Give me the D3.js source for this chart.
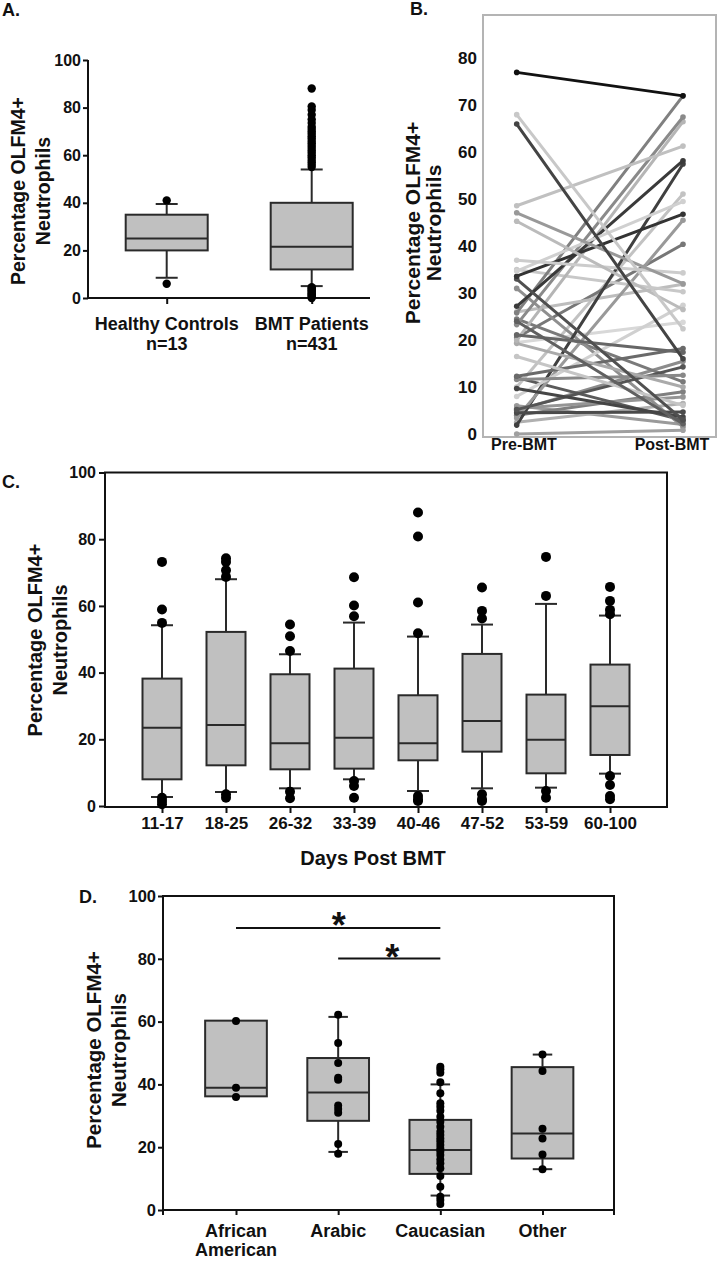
<!DOCTYPE html>
<html><head><meta charset="utf-8">
<script src="https://cdn.jsdelivr.net/npm/d3@7"></script>
<style>
body{margin:0;background:#fff;}
svg{display:block;font-family:"Liberation Sans",Arial,Helvetica,sans-serif;font-weight:bold;}
</style></head><body>
<svg id="fig" width="718" height="1262"></svg>
<script>
// ---------- Panel A ----------
const aCategories = ["Healthy Controls", "BMT Patients"];
const aCounts = ["n=13", "n=431"];
const aQ1 = [20, 12];
const aMedian = [25, 21.5];
const aQ3 = [35, 40];
const aWhiskerLow = [8.5, 5];
const aWhiskerHigh = [39.5, 54];
const aOutliers = [
  [41, 6],
  [88, 80.5, 79, 77, 75, 73.5, 72, 71, 70, 69, 68, 67, 66, 65, 64, 63, 62, 61, 60, 59, 58, 57, 56, 55,
   4.5, 4, 3.5, 3, 2.5, 2, 1.5, 1, 0.5, 0]
];
const aYTicks = [0, 20, 40, 60, 80, 100];

// ---------- Panel B ----------
const bTimepoints = ["Pre-BMT", "Post-BMT"];
const bPre  = [77, 68, 66, 48.6, 47.1, 45.3, 37, 34.7, 33.6, 33, 27.2, 25.8, 24, 23.3, 21.1, 20, 19.3, 16.5, 12.3, 11.6,
               9.7, 8, 5.2, 4.5, 3.4, 1.9, 0, 35, 31, 26, 24.5, 20.5, 19.5, 12, 10, 5.5, 5, 4, 2.5, 6];
const bPost = [72, 22.4, 16, 61.3, 32, 26.5, 34.3, 49.5, 46.8, 3, 58.2, 72, 2.2, 67.5, 17.4, 66.5, 10, 6.1, 18.2, 12.5,
               3.6, 27.4, 14.3, 4.7, 45.5, 57.5, 0.8, 30.3, 1.5, 31.9, 11.1, 40.4, 23.8, 2.9, 51.1, 7.9, 15.5, 9, 6.5, 2];
const bShade = ["#111111", "#c8c8c8", "#444444", "#c0c0c0", "#999999", "#bbbbbb", "#cccccc", "#d0d0d0", "#333333", "#505050",
                "#3a3a3a", "#808080", "#606060", "#8a8a8a", "#666666", "#b5b5b5", "#aaaaaa", "#c5c5c5", "#6a6a6a", "#888888",
                "#454545", "#d0d0d0", "#555555", "#4a4a4a", "#999999", "#404040", "#a0a0a0", "#c8c8c8", "#8f8f8f", "#bdbdbd",
                "#7a7a7a", "#777777", "#d8d8d8", "#5a5a5a", "#c2c2c2", "#959595", "#8c8c8c", "#7f7f7f", "#b0b0b0", "#9a9a9a"];
const bYTicks = [0, 10, 20, 30, 40, 50, 60, 70, 80];

// ---------- Panel C ----------
const cCategories = ["11-17", "18-25", "26-32", "33-39", "40-46", "47-52", "53-59", "60-100"];
const cQ1 = [8.0, 12.2, 11.0, 11.2, 13.7, 16.3, 9.8, 15.3];
const cMedian = [23.5, 24.3, 18.8, 20.5, 18.8, 25.5, 19.9, 29.9];
const cQ3 = [38.2, 52.2, 39.5, 41.2, 33.2, 45.6, 33.4, 42.4];
const cWhiskerLow = [2.7, 4.2, 5.3, 8.0, 4.5, 5.3, 5.5, 9.7];
const cWhiskerHigh = [54.2, 68, 45.5, 55, 50.8, 54.4, 60.6, 57.1];
const cOutliers = [
  [73.2, 58.9, 54.9, 2.5, 1.5, 0.5],
  [74.3, 73.2, 70.7, 68.7, 3.5, 2.5],
  [54.4, 50.9, 46.5, 4.3, 2.3],
  [68.6, 60.1, 56.9, 7.5, 6, 2.5],
  [88, 80.8, 61, 51.8, 3, 2, 1.5],
  [65.5, 58.5, 56.2, 3.5, 2, 1.5],
  [74.7, 63, 4.5, 2.5],
  [65.7, 61.5, 58.8, 57.5, 9, 6.3, 3, 2]
];
const cYTicks = [0, 20, 40, 60, 80, 100];

// ---------- Panel D ----------
const dCategories = ["African American", "Arabic", "Caucasian", "Other"];
const dQ1 = [36.2, 28.4, 11.5, 16.4];
const dMedian = [38.9, 37.4, 19.1, 24.4];
const dQ3 = [60.3, 48.4, 28.7, 45.5];
const dWhiskerLow = [null, 18.5, 4.6, 13];
const dWhiskerHigh = [null, 61.5, 40, 49.5];
const dPoints = [
  [60.2, 38.9, 36],
  [62.2, 53.2, 46.8, 42.1, 41.5, 33.3, 32.2, 31, 21, 17.9],
  [45.6, 44.8, 43.7, 40.7, 37.2, 34, 32.9, 31.6, 29.7, 28.1, 26.5, 24.9, 23.9, 22.8, 21.8, 20.7, 19.6, 18.6,
   17.5, 16.1, 14.9, 13.3, 10.8, 7.4, 4.2, 3.2, 1.9],
  [49.5, 44.3, 25.9, 22.8, 17.7, 13]
];
const dSigFrom = ["African American", "Arabic"];
const dSigTo = ["Caucasian", "Caucasian"];
const dSigLevel = [89.8, 80.1];
const dYTicks = [0, 20, 40, 60, 80, 100];

// ---------- helpers ----------
const svg = d3.select("#fig");
const INK = "#111";
const BOXFILL = "#c0c0c0";
const BOXSTROKE = "#2a2a2a";

function drawBoxes(g, cats, x, y, q1, med, q3, wl, wh, pts, boxW, capW, r) {
  cats.forEach((c, i) => {
    const cx = x(c);
    const gg = g.append("g");
    if (wh[i] != null) {
      gg.append("line").attr("x1", cx).attr("x2", cx).attr("y1", y(q3[i])).attr("y2", y(wh[i]))
        .attr("stroke", BOXSTROKE).attr("stroke-width", 2);
      gg.append("line").attr("x1", cx - capW / 2).attr("x2", cx + capW / 2).attr("y1", y(wh[i])).attr("y2", y(wh[i]))
        .attr("stroke", BOXSTROKE).attr("stroke-width", 2);
    }
    if (wl[i] != null) {
      gg.append("line").attr("x1", cx).attr("x2", cx).attr("y1", y(q1[i])).attr("y2", y(wl[i]))
        .attr("stroke", BOXSTROKE).attr("stroke-width", 2);
      gg.append("line").attr("x1", cx - capW / 2).attr("x2", cx + capW / 2).attr("y1", y(wl[i])).attr("y2", y(wl[i]))
        .attr("stroke", BOXSTROKE).attr("stroke-width", 2);
    }
    gg.append("rect").attr("x", cx - boxW / 2).attr("y", y(q3[i])).attr("width", boxW)
      .attr("height", y(q1[i]) - y(q3[i])).attr("fill", BOXFILL).attr("stroke", BOXSTROKE).attr("stroke-width", 2);
    gg.append("line").attr("x1", cx - boxW / 2).attr("x2", cx + boxW / 2).attr("y1", y(med[i])).attr("y2", y(med[i]))
      .attr("stroke", BOXSTROKE).attr("stroke-width", 2);
    gg.selectAll("circle").data(pts[i]).join("circle")
      .attr("cx", cx).attr("cy", d => y(d)).attr("r", r).attr("fill", "#000");
  });
}

function yLabel(g, cx1, cx2, cy, size) {
  g.append("text").attr("transform", `translate(${cx1},${cy}) rotate(-90)`)
    .attr("text-anchor", "middle").attr("dominant-baseline", "central")
    .attr("font-size", size).attr("fill", INK).text("Percentage OLFM4+");
  g.append("text").attr("transform", `translate(${cx2},${cy}) rotate(-90)`)
    .attr("text-anchor", "middle").attr("dominant-baseline", "central")
    .attr("font-size", size).attr("fill", INK).text("Neutrophils");
}

function styleAxis(ax, size) {
  ax.select(".domain").remove();
  ax.selectAll(".tick line").attr("stroke", INK).attr("stroke-width", 2);
  ax.selectAll(".tick text").attr("fill", INK).attr("font-size", size)
    .attr("font-family", "'Liberation Sans',Arial,sans-serif").attr("font-weight", "bold");
}

// ---------- Panel A ----------
{
  const g = svg.append("g");
  const x = d3.scalePoint().domain(aCategories).range([166.7, 311.7]);
  const y = d3.scaleLinear().domain([0, 100]).range([298, 60]);
  const ax = g.append("g").attr("transform", "translate(88,0)")
    .call(d3.axisLeft(y).tickValues(aYTicks).tickSize(5).tickPadding(2));
  styleAxis(ax, 16);
  const bx = g.append("g").attr("transform", "translate(0,298)")
    .call(d3.axisBottom(x).tickSize(6).tickFormat(""));
  styleAxis(bx, 16);
  g.append("line").attr("x1", 88).attr("x2", 88).attr("y1", 60).attr("y2", 299).attr("stroke", INK).attr("stroke-width", 2);
  g.append("line").attr("x1", 87).attr("x2", 370).attr("y1", 298).attr("y2", 298).attr("stroke", INK).attr("stroke-width", 2);
  drawBoxes(g, aCategories, x, y, aQ1, aMedian, aQ3, aWhiskerLow, aWhiskerHigh, aOutliers, 82, 22, 4.2);
  aCategories.forEach((c, i) => {
    g.append("text").attr("x", x(c)).attr("y", 330).attr("text-anchor", "middle").attr("font-size", 18).attr("fill", INK).text(c);
    g.append("text").attr("x", x(c)).attr("y", 350).attr("text-anchor", "middle").attr("font-size", 18).attr("fill", INK).text(aCounts[i]);
  });
  yLabel(g, 18, 43, 191, 19.5);
  g.append("text").attr("x", 2).attr("y", 16).attr("font-size", 18).attr("fill", INK).text("A.");
}

// ---------- Panel B ----------
{
  const g = svg.append("g");
  const x = d3.scalePoint().domain(bTimepoints).range([516.7, 683]);
  const y = d3.scaleLinear().domain([0, 80]).range([434, 58.3]);
  g.append("rect").attr("x", 483).attr("y", 15).attr("width", 233).attr("height", 422)
    .attr("fill", "#fff").attr("stroke", "#b4b4b4").attr("stroke-width", 2);
  const ax = g.append("g").attr("transform", "translate(477,0)")
    .call(d3.axisLeft(y).tickValues(bYTicks).tickSize(0).tickPadding(0));
  styleAxis(ax, 17);
  const pairs = bPre.map((p, i) => ({ pre: p, post: bPost[i], shade: bShade[i] }));
  pairs.slice().reverse().forEach(d => {
    g.append("line").attr("x1", x("Pre-BMT")).attr("x2", x("Post-BMT"))
      .attr("y1", y(d.pre)).attr("y2", y(d.post)).attr("stroke", d.shade).attr("stroke-width", 3)
      .attr("stroke-linecap", "round");
    g.append("circle").attr("cx", x("Pre-BMT")).attr("cy", y(d.pre)).attr("r", 2.8).attr("fill", d.shade);
    g.append("circle").attr("cx", x("Post-BMT")).attr("cy", y(d.post)).attr("r", 2.8).attr("fill", d.shade);
  });
  g.append("text").attr("x", 524).attr("y", 450).attr("text-anchor", "middle").attr("font-size", 16).attr("fill", INK).text(bTimepoints[0]);
  g.append("text").attr("x", 672).attr("y", 450).attr("text-anchor", "middle").attr("font-size", 16).attr("fill", INK).text(bTimepoints[1]);
  yLabel(g, 412, 433, 223, 21);
  g.append("text").attr("x", 410).attr("y", 15).attr("font-size", 18).attr("fill", INK).text("B.");
}

// ---------- Panel C ----------
{
  const g = svg.append("g");
  const x0 = 105, x1 = 667;
  const x = d3.scalePoint().domain(cCategories).range([x0 + 57, x1 - 57]);
  const y = d3.scaleLinear().domain([0, 100]).range([806, 472.5]);
  g.append("rect").attr("x", x0).attr("y", y(100)).attr("width", x1 - x0).attr("height", 807 - y(100))
    .attr("fill", "none").attr("stroke", INK).attr("stroke-width", 2);
  const ax = g.append("g").attr("transform", `translate(${x0},0)`)
    .call(d3.axisLeft(y).tickValues(cYTicks).tickSize(6).tickPadding(3));
  styleAxis(ax, 16);
  const bx = g.append("g").attr("transform", "translate(0,807)")
    .call(d3.axisBottom(x).tickSize(6).tickPadding(4));
  styleAxis(bx, 17);
  drawBoxes(g, cCategories, x, y, cQ1, cMedian, cQ3, cWhiskerLow, cWhiskerHigh, cOutliers, 39, 22, 5);
  yLabel(g, 35, 60, 640, 20);
  g.append("text").attr("x", 373).attr("y", 865).attr("text-anchor", "middle").attr("font-size", 20).attr("fill", INK).text("Days Post BMT");
  g.append("text").attr("x", 2).attr("y", 488).attr("font-size", 18).attr("fill", INK).text("C.");
}

// ---------- Panel D ----------
{
  const g = svg.append("g");
  const x0 = 163, x1 = 614;
  const x = d3.scalePoint().domain(dCategories).range([x0 + 73, x1 - 71.5]);
  const y = d3.scaleLinear().domain([0, 100]).range([1210, 896]);
  g.append("rect").attr("x", x0).attr("y", y(100)).attr("width", x1 - x0).attr("height", y(0) - y(100))
    .attr("fill", "none").attr("stroke", INK).attr("stroke-width", 2);
  const ax = g.append("g").attr("transform", `translate(${x0},0)`)
    .call(d3.axisLeft(y).tickValues(dYTicks).tickSize(5).tickPadding(2));
  styleAxis(ax, 16.5);
  const bx = g.append("g").attr("transform", `translate(0,${y(0)})`)
    .call(d3.axisBottom(x).tickSize(5).tickFormat(""));
  styleAxis(bx, 18);
  [x0, x1].forEach(v => g.append("line").attr("x1", v).attr("x2", v).attr("y1", y(0)).attr("y2", y(0) + 5)
    .attr("stroke", INK).attr("stroke-width", 2));
  dCategories.forEach(c => {
    const words = c.split(" ");
    const t = g.append("text").attr("text-anchor", "middle").attr("font-size", 18).attr("fill", INK);
    words.forEach((w, k) => t.append("tspan").attr("x", x(c)).attr("y", 1237 + k * 19).text(w));
  });
  drawBoxes(g, dCategories, x, y, dQ1, dMedian, dQ3, dWhiskerLow, dWhiskerHigh, dPoints, 61.7, 19.5, 4);
  dSigFrom.forEach((f, i) => {
    const xa = x(f), xb = x(dSigTo[i]);
    g.append("line").attr("x1", xa).attr("x2", xb).attr("y1", y(dSigLevel[i])).attr("y2", y(dSigLevel[i]))
      .attr("stroke", INK).attr("stroke-width", 2);
    const xs = i === 0 ? (xa + xb) / 2 + 0.5 : (xa + xb) / 2 + 3;
    const off = i === 0 ? 10 : 11.5;
    g.append("text").attr("x", xs).attr("y", y(dSigLevel[i]) + off).attr("text-anchor", "middle")
      .attr("font-size", 36).attr("fill", INK).text("*");
  });
  yLabel(g, 93, 118, 1050, 20.5);
  g.append("text").attr("x", 79).attr("y", 903).attr("font-size", 18).attr("fill", INK).text("D.");
}
</script>
</body></html>
